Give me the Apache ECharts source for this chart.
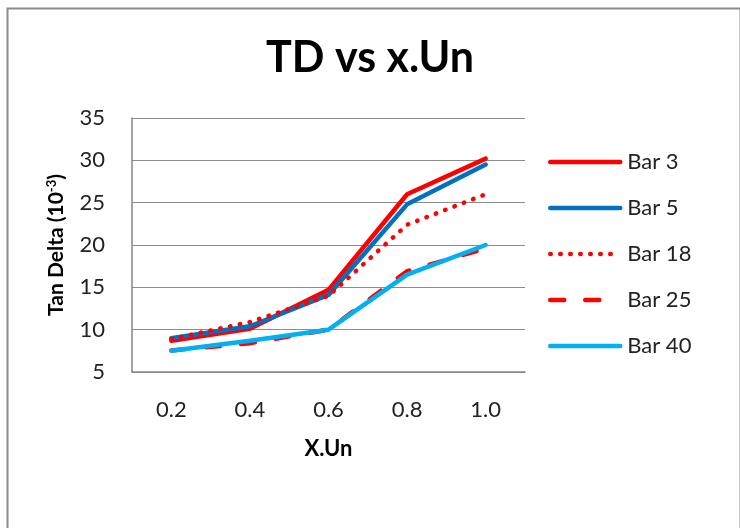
<!DOCTYPE html>
<html>
<head>
<meta charset="utf-8">
<script src="https://cdn.jsdelivr.net/npm/echarts@6/dist/echarts.min.js"></script>
<style>
html,body{margin:0;padding:0;background:#fff;}
#c{width:740px;height:528px;}
</style>
</head>
<body>
<div id="c"></div>
<script>
const categories = ['0.2', '0.4', '0.6', '0.8', '1.0'];
const bar3  = [8.7, 10.1, 14.7, 26.0, 30.2];
const bar5  = [9.0, 10.4, 14.1, 24.8, 29.5];
const bar18 = [8.9, 10.9, 14.0, 22.4, 26.0];
const bar25 = [7.55, 8.4, 10.0, 16.9, 19.6];
const bar40 = [7.5, 8.7, 10.0, 16.5, 20.0];
const seriesNames = ['Bar 3', 'Bar 5', 'Bar 18', 'Bar 25', 'Bar 40'];

const FONT = 'Lato, "Open Sans", sans-serif';
const chart = echarts.init(document.getElementById('c'), null, {renderer: 'canvas'});

function mk(name, data, color, type, cap) {
  return {
    name: name, type: 'line', data: data, symbol: 'none', showSymbol: false,
    lineStyle: {color: color, width: 4.5, type: type, cap: cap || 'round', join: 'round'},
    itemStyle: {color: color},
    emphasis: {disabled: true}
  };
}

chart.setOption({
  animation: false,
  backgroundColor: '#fff',
  graphic: [{
    type: 'rect', left: 5, top: 6, shape: {width: 733, height: 600},
    style: {fill: 'none', stroke: '#8c8c8c', lineWidth: 2}, silent: true
  }],
  title: {
    text: 'TD vs x.Un', left: 'center', top: 32,
    textStyle: {fontFamily: FONT, fontWeight: 'bold', fontSize: 43, color: '#000'}
  },
  grid: {left: 132, right: 215, top: 118, bottom: 156, containLabel: false},
  legend: {
    orient: 'vertical', left: 548, top: 151, padding: 0,
    itemWidth: 70, itemHeight: 16, itemGap: 24,
    itemStyle: {opacity: 0},
    lineStyle: {width: 4.5, cap: 'round'},
    textStyle: {fontFamily: FONT, fontSize: 22, color: '#222', padding: [0, 0, 0, 2]},
    data: seriesNames
  },
  xAxis: {
    type: 'category', data: categories, boundaryGap: true,
    axisLine: {lineStyle: {color: '#868686', width: 1.5}},
    axisTick: {show: false},
    axisLabel: {fontFamily: FONT, fontSize: 22, color: '#222', margin: 27},
    name: 'X.Un', nameLocation: 'middle', nameGap: 66,
    nameTextStyle: {fontFamily: FONT, fontWeight: 'bold', fontSize: 22, color: '#000'}
  },
  yAxis: {
    type: 'value', min: 5, max: 35, interval: 5,
    axisLine: {show: true, lineStyle: {color: '#868686', width: 1.5}},
    axisTick: {show: false},
    splitLine: {lineStyle: {color: '#8c8c8c', width: 1.2}},
    axisLabel: {fontFamily: FONT, fontSize: 22, color: '#222', margin: 27},
    name: 'Tan Delta (10{sup|-3})', nameLocation: 'middle', nameGap: 65, nameRotate: 90,
    nameTextStyle: {
      fontFamily: FONT, fontWeight: 'bold', fontSize: 21, color: '#000',
      rich: {sup: {fontFamily: FONT, fontWeight: 'bold', fontSize: 13, color: '#000', verticalAlign: 'top', padding: [0, 0, 9, 0]}}
    }
  },
  series: [
    mk('Bar 3', bar3, '#ff0000', 'solid'),
    mk('Bar 5', bar5, '#0070c0', 'solid'),
    mk('Bar 18', bar18, '#ff0000', [0.5, 9.5], 'round'),
    mk('Bar 25', bar25, '#ff0000', [14, 21], 'round'),
    mk('Bar 40', bar40, '#00b0f0', 'solid')
  ]
});
</script>
</body>
</html>
